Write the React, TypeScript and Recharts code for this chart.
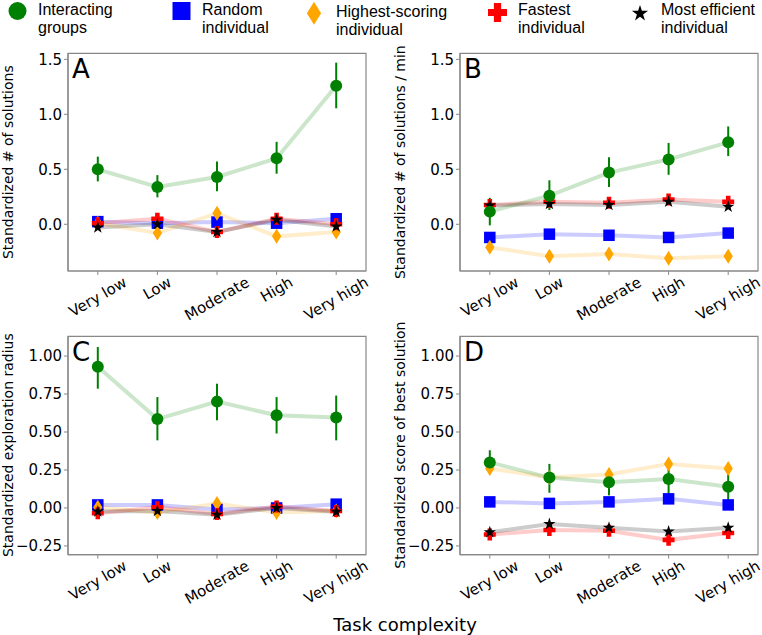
import React from "react";
import { LineChart, Line, XAxis, YAxis, ErrorBar, ReferenceArea } from "recharts";

const categories = ["Very low", "Low", "Moderate", "High", "Very high"];

// A: standardized # of solutions
const aGroups = [0.5, 0.34, 0.43, 0.6, 1.26];
const aGroupsLo = [0.39, 0.245, 0.3, 0.46, 1.055];
const aGroupsHi = [0.615, 0.447, 0.57, 0.75, 1.47];
const aRandom = [0.024, 0.01, 0.02, 0.01, 0.05];
const aHighest = [0.01, -0.08, 0.1, -0.11, -0.07];
const aFastest = [0.01, 0.05, -0.07, 0.05, 0.0];
const aEfficient = [-0.03, 0.0, -0.07, 0.04, -0.02];

// B: standardized # of solutions / min
const bGroups = [0.115, 0.26, 0.47, 0.59, 0.745];
const bGroupsLo = [-0.01, 0.13, 0.34, 0.45, 0.62];
const bGroupsHi = [0.24, 0.4, 0.61, 0.74, 0.89];
const bRandom = [-0.12, -0.09, -0.1, -0.12, -0.08];
const bHighest = [-0.21, -0.29, -0.27, -0.31, -0.29];
const bFastest = [0.175, 0.205, 0.195, 0.225, 0.205];
const bEfficient = [0.17, 0.185, 0.175, 0.205, 0.16];

// C: standardized exploration radius
const cGroups = [0.93, 0.585, 0.7, 0.61, 0.595];
const cGroupsLo = [0.785, 0.445, 0.577, 0.49, 0.445];
const cGroupsHi = [1.06, 0.73, 0.818, 0.73, 0.74];
const cRandom = [0.02, 0.02, -0.01, 0.0, 0.025];
const cHighest = [0.005, -0.03, 0.03, -0.03, -0.02];
const cFastest = [-0.035, 0.005, -0.04, 0.01, -0.02];
const cEfficient = [-0.024, -0.02, -0.045, 0.0, -0.025];

// D: standardized score of best solution
const dGroups = [0.3, 0.2, 0.17, 0.19, 0.14];
const dGroupsLo = [0.237, 0.1, 0.083, 0.07, 0.04];
const dGroupsHi = [0.38, 0.29, 0.26, 0.29, 0.226];
const dRandom = [0.04, 0.03, 0.04, 0.06, 0.02];
const dHighest = [0.26, 0.2, 0.22, 0.29, 0.26];
const dFastest = [-0.175, -0.145, -0.15, -0.21, -0.165];
const dEfficient = [-0.16, -0.105, -0.13, -0.155, -0.13];

type Kind = "circle" | "square" | "diamond" | "plus" | "star";

const Marker = ({ kind, cx, cy, s, color }: { kind: Kind; cx: number; cy: number; s: number; color: string }) => {
  if (kind === "circle") return <circle cx={cx} cy={cy} r={s / 2} fill={color} />;
  if (kind === "square") return <rect x={cx - s / 2} y={cy - s / 2} width={s} height={s} fill={color} />;
  if (kind === "diamond") {
    const w = s * 0.62;
    return (
      <polygon
        points={`${cx},${cy - s / 2} ${cx + w / 2},${cy} ${cx},${cy + s / 2} ${cx - w / 2},${cy}`}
        fill={color}
      />
    );
  }
  if (kind === "plus") {
    const h = s / 2;
    const t = s * 0.19;
    const d = `M${cx - t},${cy - h}H${cx + t}V${cy - t}H${cx + h}V${cy + t}H${cx + t}V${cy + h}H${cx - t}V${cy + t}H${cx - h}V${cy - t}H${cx - t}Z`;
    return <path d={d} fill={color} />;
  }
  const pts: string[] = [];
  for (let i = 0; i < 10; i++) {
    const a = ((-90 + i * 36) * Math.PI) / 180;
    const r = i % 2 === 0 ? s / 2 : (s / 2) * 0.382;
    pts.push(`${cx + r * Math.cos(a)},${cy + r * Math.sin(a)}`);
  }
  return <polygon points={pts.join(" ")} fill={color} />;
};

const series: { key: string; kind: Kind; color: string; light: string; size: number }[] = [
  { key: "random", kind: "square", color: "#0000ff", light: "rgba(0,0,255,0.2)", size: 11.5 },
  { key: "highest", kind: "diamond", color: "#ffa500", light: "rgba(255,165,0,0.2)", size: 15 },
  { key: "fastest", kind: "plus", color: "#ff0000", light: "rgba(255,0,0,0.2)", size: 12 },
  { key: "efficient", kind: "star", color: "#000000", light: "rgba(0,0,0,0.2)", size: 13 },
  { key: "groups", kind: "circle", color: "#008000", light: "rgba(0,128,0,0.2)", size: 12 },
];

const renderDot = (kind: Kind, color: string, size: number, name: string) => (p: any) => {
  if (p.cx == null || p.cy == null) return <g key={`${name}-${p.index}`} />;
  return <Marker key={`${name}-${p.index}`} kind={kind} cx={p.cx} cy={p.cy} s={size} color={color} />;
};

let ctx: CanvasRenderingContext2D | null = null;
const textWidth = (t: string) => {
  if (!ctx) ctx = document.createElement("canvas").getContext("2d");
  if (!ctx) return t.length * 8;
  ctx.font = "15px 'DejaVu Sans'";
  return ctx.measureText(t).width;
};

const RotTick = (props: any) => {
  const { x, y, payload } = props;
  const label = categories[payload.value] ?? "";
  const cy = y + 4 + textWidth(label) * 0.25;
  return (
    <text
      x={x}
      y={cy}
      transform={`rotate(-30 ${x} ${cy})`}
      textAnchor="middle"
      dominantBaseline="central"
      fontSize={15}
      fontFamily="DejaVu Sans"
      fill="#000"
    >
      {label}
    </text>
  );
};

type Panel = {
  letter: string;
  label: string;
  plotLeft: number;
  plotTop: number;
  plotH: number;
  domain: [number, number];
  ticks: number[];
  digits: number;
  groups: number[];
  lo: number[];
  hi: number[];
  random: number[];
  highest: number[];
  fastest: number[];
  efficient: number[];
};

const panels: Panel[] = [
  { letter: "A", label: "Standardized # of solutions", plotLeft: 68, plotTop: 53.3, plotH: 217.7, domain: [-0.425, 1.555], ticks: [0, 0.5, 1, 1.5], digits: 1, groups: aGroups, lo: aGroupsLo, hi: aGroupsHi, random: aRandom, highest: aHighest, fastest: aFastest, efficient: aEfficient },
  { letter: "B", label: "Standardized # of solutions / min", plotLeft: 460, plotTop: 53.3, plotH: 217.7, domain: [-0.425, 1.555], ticks: [0, 0.5, 1, 1.5], digits: 1, groups: bGroups, lo: bGroupsLo, hi: bGroupsHi, random: bRandom, highest: bHighest, fastest: bFastest, efficient: bEfficient },
  { letter: "C", label: "Standardized exploration radius", plotLeft: 68, plotTop: 336, plotH: 218.3, domain: [-0.307, 1.13], ticks: [-0.25, 0, 0.25, 0.5, 0.75, 1], digits: 2, groups: cGroups, lo: cGroupsLo, hi: cGroupsHi, random: cRandom, highest: cHighest, fastest: cFastest, efficient: cEfficient },
  { letter: "D", label: "Standardized score of best solution", plotLeft: 460, plotTop: 336, plotH: 218.3, domain: [-0.307, 1.13], ticks: [-0.25, 0, 0.25, 0.5, 0.75, 1], digits: 2, groups: dGroups, lo: dGroupsLo, hi: dGroupsHi, random: dRandom, highest: dHighest, fastest: dFastest, efficient: dEfficient },
];

const spine = "#888";

const PanelChart = ({ p }: { p: Panel }) => {
  const rows = categories.map((_, i) => ({
    x: i,
    groups: p.groups[i],
    groupsErr: [p.groups[i] - p.lo[i], p.hi[i] - p.groups[i]],
    random: p.random[i],
    highest: p.highest[i],
    fastest: p.fastest[i],
    efficient: p.efficient[i],
  }));
  const fmt = (v: number) => v.toFixed(p.digits).replace("-", "\u2212");
  return (
    <div style={{ position: "absolute", left: p.plotLeft - 68, top: p.plotTop - 53.3 }}>
      <LineChart
        width={380}
        height={53.3 + p.plotH + 64}
        data={rows}
        margin={{ top: 53.3, left: 8, right: 14, bottom: 4 }}
      >
        <XAxis
          dataKey="x"
          type="number"
          domain={[-0.5, 4.5]}
          ticks={[0, 1, 2, 3, 4]}
          interval={0}
          allowDataOverflow
          height={60}
          tickSize={4}
          tickMargin={2}
          tick={<RotTick />}
          tickLine={{ stroke: spine }}
          axisLine={{ stroke: spine, strokeWidth: 1.2 }}
        />
        <YAxis
          type="number"
          domain={p.domain}
          ticks={p.ticks}
          allowDataOverflow
          width={60}
          tickSize={4}
          tickMargin={2}
          tickFormatter={fmt}
          tick={{ fill: "#000", fontSize: 15, fontFamily: "DejaVu Sans" }}
          tickLine={{ stroke: spine }}
          axisLine={{ stroke: spine, strokeWidth: 1.2 }}
        />
        <ReferenceArea
          x1={-0.5}
          x2={4.5}
          y1={p.domain[0]}
          y2={p.domain[1]}
          fill="none"
          fillOpacity={0}
          stroke={spine}
          strokeWidth={1.2}
          ifOverflow="visible"
        />
        {series.map((s) => (
          <Line
            key={`line-${s.key}`}
            dataKey={s.key}
            stroke={s.light}
            strokeWidth={4}
            dot={false}
            activeDot={false}
            isAnimationActive={false}
          />
        ))}
        {series.map((s) => (
          <Line
            key={`mark-${s.key}`}
            dataKey={s.key}
            stroke="none"
            dot={renderDot(s.kind, s.color, s.size, `${p.letter}-${s.key}`)}
            activeDot={false}
            isAnimationActive={false}
          >
            {s.key === "groups" && (
              <ErrorBar dataKey="groupsErr" direction="y" width={0} stroke="#008000" strokeWidth={2} isAnimationActive={false} />
            )}
          </Line>
        ))}
      </LineChart>
    </div>
  );
};

const legendItems: { kind: Kind; color: string; s: number; cx: number; cy: number; tx: number; lines: string[]; base: number }[] = [
  { kind: "circle", color: "#008000", s: 18, cx: 17.5, cy: 11, tx: 38, lines: ["Interacting", "groups"], base: 15 },
  { kind: "square", color: "#0000ff", s: 18, cx: 181.5, cy: 11, tx: 202, lines: ["Random", "individual"], base: 15 },
  { kind: "diamond", color: "#ffa500", s: 23, cx: 314, cy: 13.3, tx: 336, lines: ["Highest-scoring", "individual"], base: 16.5 },
  { kind: "plus", color: "#ff0000", s: 19, cx: 497.5, cy: 12.5, tx: 518, lines: ["Fastest", "individual"], base: 15 },
  { kind: "star", color: "#000000", s: 17, cx: 640, cy: 13.5, tx: 661, lines: ["Most efficient", "individual"], base: 15 },
];

export default function App() {
  return (
    <div style={{ position: "absolute", left: 0, top: 0, width: 762, height: 635, background: "#fff", fontFamily: "DejaVu Sans" }}>
      {panels.map((p) => (
        <PanelChart key={p.letter} p={p} />
      ))}
      <svg width={762} height={635} style={{ position: "absolute", left: 0, top: 0, pointerEvents: "none" }}>
        {legendItems.map((it) => (
          <g key={it.lines[0]}>
            <Marker kind={it.kind} cx={it.cx} cy={it.cy} s={it.s} color={it.color} />
            {it.lines.map((ln, i) => (
              <text key={ln} x={it.tx} y={it.base + i * 18} fontSize={16} fontFamily="Liberation Sans" fill="#000">
                {ln}
              </text>
            ))}
          </g>
        ))}
        {panels.map((p) => (
          <g key={`lbl-${p.letter}`}>
            <text
              transform={`translate(${p.plotLeft - 60} ${p.plotTop + p.plotH / 2}) rotate(-90)`}
              textAnchor="middle"
              dominantBaseline="central"
              fontSize={14}
              fontFamily="DejaVu Sans"
              fill="#000"
            >
              {p.label}
            </text>
            <text x={p.plotLeft + 4} y={p.plotTop + 25} fontSize={26} fontFamily="DejaVu Sans" fill="#000">
              {p.letter}
            </text>
          </g>
        ))}
        <text x={405} y={631} textAnchor="middle" fontSize={18} fontFamily="DejaVu Sans" fill="#000">
          Task complexity
        </text>
      </svg>
    </div>
  );
}
